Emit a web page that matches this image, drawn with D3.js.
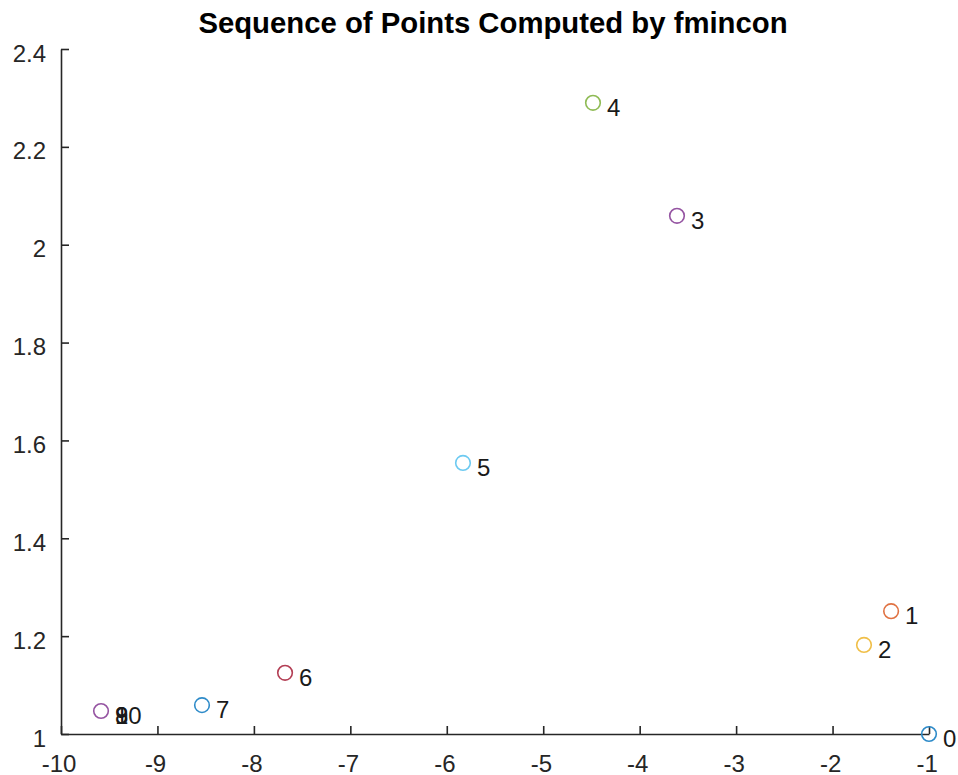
<!DOCTYPE html>
<html>
<head>
<meta charset="utf-8">
<script src="https://cdn.jsdelivr.net/npm/d3@7"></script>
<style>
  html, body { margin: 0; padding: 0; background: #fff; }
  svg { display: block; font-family: "Liberation Sans", Arial, Helvetica, sans-serif; }
</style>
</head>
<body>
<svg id="chart" width="958" height="775"></svg>
<script>
// Iterates computed by fmincon, in order
const iterLabels = ["0", "1", "2", "3", "4", "5", "6", "7", "8", "9", "10"];
const xValues = [-1.0, -1.393, -1.674, -3.613, -4.484, -5.832, -7.677, -8.538, -9.585, -9.585, -9.585];
const yValues = [1.0, 1.251, 1.182, 2.059, 2.290, 1.554, 1.125, 1.059, 1.047, 1.047, 1.047];
const xTicks = [-10, -9, -8, -7, -6, -5, -4, -3, -2, -1];
const yTicks = [1, 1.2, 1.4, 1.6, 1.8, 2, 2.2, 2.4];
// default line colour order, cycling
const colorOrder = ["#0072BD", "#D95319", "#EDB120", "#7E2F8E", "#77AC30", "#4DBEEE", "#A2142F"];

const svg = d3.select("#chart");
const plotLeft = 61, plotRight = 929, plotTop = 49, plotBottom = 734;
const axisColor = "#262626";

const x = d3.scaleLinear().domain([-10, -1]).range([plotLeft, plotRight]);
const y = d3.scaleLinear().domain([1, 2.4]).range([plotBottom, plotTop]);

// Title
svg.append("text")
  .attr("x", (plotLeft + plotRight) / 2 - 2).attr("y", 33)
  .attr("text-anchor", "middle")
  .attr("font-size", 29.3).attr("font-weight", "bold")
  .attr("fill", "#000")
  .text("Sequence of Points Computed by fmincon");

// tick labels use a plain hyphen for negatives
const fmt = d => String(d);

// x axis (ticks point inward)
const xAxis = svg.append("g").attr("transform", `translate(0,${plotBottom})`)
  .call(d3.axisBottom(x).tickValues(xTicks).tickSizeInner(-8).tickSizeOuter(0).tickFormat(fmt));
// y axis
const yAxis = svg.append("g").attr("transform", `translate(${plotLeft},0)`)
  .call(d3.axisLeft(y).tickValues(yTicks).tickSizeInner(-8).tickSizeOuter(0).tickFormat(fmt));

[xAxis, yAxis].forEach(g => {
  g.select(".domain").attr("stroke", axisColor).attr("stroke-width", 1.6);
  g.selectAll(".tick line").attr("stroke", axisColor).attr("stroke-width", 1.6);
  g.selectAll(".tick text").attr("fill", axisColor).attr("font-size", 24)
    .attr("font-family", "'Liberation Sans', Arial, sans-serif");
});
xAxis.selectAll(".tick text").attr("y", 38).attr("dy", 0).attr("dx", "-0.1em");
yAxis.selectAll(".tick text").attr("x", -15).attr("dy", 0).attr("y", 12);

// Points and their iteration labels
const pts = iterLabels.map((lab, i) => ({
  lab, x: xValues[i], y: yValues[i],
  c: d3.interpolateRgb(colorOrder[i % colorOrder.length], "#ffffff")(0.18),
  // true when an earlier iterate sits at the same spot
  repeat: xValues.slice(0, i).some((v, j) => v === xValues[i] && yValues[j] === yValues[i])
}));

const marks = svg.append("g").selectAll("g").data(pts).join("g")
  .attr("transform", d => `translate(${x(d.x)},${y(d.y)})`);
// repeated iterates get a white ring so the latest one covers the earlier ones cleanly
marks.filter(d => d.repeat).append("circle")
  .attr("r", 7.3).attr("fill", "none")
  .attr("stroke", "#fff").attr("stroke-width", 3);
marks.append("circle")
  .attr("r", 7.3).attr("fill", "none")
  .attr("stroke", d => d.c).attr("stroke-width", 1.6);

svg.append("g").selectAll("text").data(pts).join("text")
  .attr("x", d => x(d.x) + 14).attr("y", d => y(d.y) + 13)
  .attr("font-size", 24).attr("fill", "#1a1a1a")
  .text(d => d.lab);
</script>
</body>
</html>
